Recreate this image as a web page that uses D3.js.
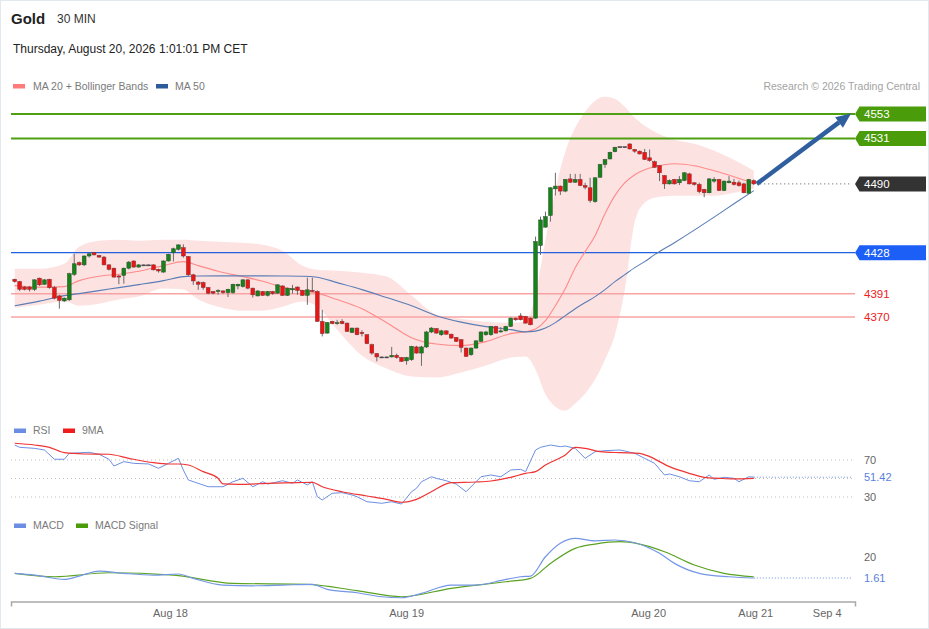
<!DOCTYPE html>
<html><head><meta charset="utf-8">
<script src="https://cdn.jsdelivr.net/npm/d3@7"></script>
<style>body{margin:0;background:#fff;}svg{display:block;font-family:"Liberation Sans",Arial,sans-serif;}</style>
</head><body><svg id="c" width="929" height="629"></svg>
<script>
// ---------- DATA ----------
const candleOpen=[4404,4402,4397,4397,4395,4405,4399.5,4404,4396.5,4389,4384.5,4385.5,4408.5,4419,4417,4425,4428,4425.5,4424,4417,4414,4407,4407.5,4414,4420.5,4415,4417,4417,4417,4413,4410.5,4420.5,4428,4431,4432.5,4424.5,4408,4401.5,4401,4396.5,4393,4393,4393.5,4392,4392,4398,4397.5,4403.5,4396,4389,4393,4389.5,4393,4391.5,4398,4389.5,4394.5,4397,4394,4389.5,4394,4393,4366,4355.5,4366,4364,4366,4364.5,4356,4360,4356,4354,4345,4337,4334,4334,4334,4335.5,4333.5,4330.5,4331.5,4343,4337.5,4343,4356.5,4359.5,4354,4357.5,4354.5,4351.5,4349.5,4342,4336,4342,4348,4354,4354,4361.5,4356.5,4357.5,4361.5,4369,4371,4370.5,4369,4369,4434.5,4451,4461.5,4485.5,4488,4483.5,4494.5,4491.5,4494,4488.5,4486.5,4474,4496,4507.5,4512.5,4519,4523.5,4523.5,4526,4521,4519.5,4518.5,4513.5,4510,4506.5,4497.5,4490,4494,4491,4493,4499,4491,4489.5,4485,4482,4492.5,4494,4484,4491,4491.5,4491,4490,4481.5,4493];
const candleHigh=[4404.5,4402.5,4398,4398,4404,4405.5,4404,4404.5,4398,4390,4387.5,4410,4427,4420,4425.5,4428,4428.5,4426,4425,4417.5,4414.5,4408,4414.5,4420.5,4421,4417.5,4417.3,4417.3,4417.5,4413.5,4421,4427,4432.5,4435.5,4435.5,4425,4409,4402.5,4402,4397,4393.5,4395,4394,4395.5,4400,4400,4404,4404,4396.5,4394,4393.5,4393.5,4393.5,4399.5,4398.5,4396.5,4399,4397.5,4394.5,4405.5,4405.5,4394,4376.5,4365.5,4366.5,4367.5,4368,4365,4360.5,4360.5,4358,4354.5,4346,4337.5,4334.3,4334.3,4343,4337,4334,4334,4344,4344,4344,4357.5,4361,4360,4358.5,4358,4355,4352,4350,4342.5,4342.5,4349,4357,4357.5,4362,4362,4361,4362,4369.5,4369.5,4373.5,4371,4369.5,4442.5,4460.5,4465,4487,4500,4488.5,4494.5,4499,4499,4499,4491,4495.5,4496,4508,4512.5,4519,4523.5,4523.8,4523.8,4526.5,4521.5,4520,4521.5,4521,4511,4507,4498,4494,4494.5,4497,4500.5,4500,4491.5,4491,4485.5,4495,4496,4494.5,4493,4497,4494.5,4493,4491,4494.5,4494];
const candleLow=[4401,4393.5,4394,4393,4393.5,4398,4399,4395.5,4386,4377.5,4383.5,4384.5,4407,4416,4416,4423.5,4425.5,4423.5,4416.5,4412,4405.5,4399.5,4400,4413,4414.5,4414.5,4416.7,4416.7,4412,4410,4410,4420,4420,4430,4423.5,4407,4399,4394.5,4394.5,4390.5,4390.5,4390,4391,4388,4391,4395,4396.5,4395,4387.5,4388.5,4389,4388.5,4390,4391,4389,4389,4391,4390,4389,4381,4392.5,4365.5,4352.5,4355,4363.5,4363,4363.5,4356.5,4355.5,4353.5,4352.5,4345.5,4336,4330,4333.7,4333.7,4333.5,4332.5,4329.5,4327,4330.5,4337,4326,4342,4355.5,4355,4353,4354,4350.5,4347.5,4338,4334,4335,4341.5,4347.5,4353,4353,4355,4356,4357,4361,4366.5,4367,4364,4362.5,4368.5,4426,4450.5,4456,4479.5,4480,4482.5,4491,4491,4488,4485,4473,4473,4495.5,4504.5,4512,4518.5,4523.2,4523.2,4521,4518,4516.5,4511.5,4510,4504.5,4492.5,4485.5,4489.5,4489.5,4489,4492.5,4489.5,4488.5,4481.5,4478,4481.5,4491,4483.5,4483.5,4490.5,4488.5,4487.5,4481.5,4481,4489];
const candleClose=[4402,4395,4395,4395,4403.5,4399,4403.5,4396.5,4387,4385,4387,4409,4418,4417,4425,4427,4426,4424,4417,4413,4406,4406,4414,4419.5,4415,4417,4417,4417,4412.5,4411.5,4420.5,4426.5,4431.5,4435,4425,4408,4402.5,4399.5,4396.5,4391.5,4391.5,4394,4392,4395,4399.5,4399.5,4403.5,4396,4390,4393.5,4389.5,4393,4391,4399,4389.5,4396,4395.5,4394,4389.5,4394.5,4393,4366,4355,4365,4364,4365,4364,4357,4360,4354,4355,4346,4337.5,4334,4334,4334,4335.5,4333.5,4330,4333.5,4343.5,4337.5,4343,4356.5,4360,4355.5,4357.5,4354.5,4351,4348,4342.5,4334.5,4342,4348.5,4356.5,4356.5,4361.5,4355.5,4357.5,4361.5,4369,4367.5,4367.5,4364.5,4363,4438,4457.5,4460.5,4486.5,4488,4483.5,4494,4491.5,4494,4488.5,4487,4475,4495.5,4507.5,4512,4518.5,4523,4523.5,4523.5,4521.5,4519.5,4517,4512,4511,4505,4500,4490,4493,4490,4494,4500,4490,4489.5,4483,4482,4494.5,4494,4484,4492.5,4492.5,4489.5,4488.5,4482,4494,4490];

const bandIdx=[1,6,11,14,18,22,26,31,35,38,42,47,51,55,59,62,66,71,76,81,86,91,96,101,104,106,108,110,112,114,116,118,120,122,124,126,128,130,134,138,142,146,150];
const bbUpper=[4413.6,4413.6,4418.1,4433.4,4438.8,4439.7,4438.8,4439.7,4439.7,4438.8,4437.9,4437.0,4435.2,4429.8,4416.3,4412.7,4411.8,4410.0,4406.4,4389.3,4372.1,4368.5,4365.8,4364.9,4365.8,4390.0,4439.7,4484.8,4519.0,4540.6,4555.0,4565.0,4568.6,4566.8,4559.5,4549.6,4542.4,4537.0,4529.8,4526.2,4519.9,4511.8,4501.9];
const ma20=[4398.3,4396.9,4397.4,4402.8,4406.8,4408.6,4411.3,4416.3,4419.9,4416.3,4411.3,4406.4,4402.3,4396.9,4393.8,4391.5,4385.7,4377.5,4364.9,4351.4,4345.6,4344.2,4347.8,4355.0,4356.8,4359.1,4366.7,4380.2,4395.6,4414.5,4428.9,4443.3,4463.1,4479.4,4491.1,4498.3,4502.8,4505.5,4508.2,4506.4,4501.9,4496.5,4490.6];
const bbLower=[4378.4,4381.1,4383.9,4380.2,4382.0,4385.7,4388.4,4395.6,4394.7,4385.7,4379.3,4375.7,4375.7,4379.3,4383.9,4379.3,4358.6,4335.2,4323.5,4316.3,4315.4,4319.9,4326.2,4333.4,4334.3,4322.6,4300.1,4289.2,4285.6,4292.0,4301.0,4313.6,4331.6,4354.1,4394.7,4455.9,4473.1,4477.6,4479.4,4479.4,4479.4,4482.1,4485.7];
const ma50=[4380.2,4384.3,4389.3,4391.1,4393.8,4396.5,4399.2,4402.8,4406.4,4407.0,4407.1,4407.1,4407.1,4407.0,4406.8,4405.9,4401.0,4394.7,4387.5,4380.2,4371.2,4365.4,4361.3,4358.6,4356.6,4357.3,4360.0,4364.9,4371.2,4377.5,4383.0,4388.4,4394.7,4401.9,4408.2,4414.5,4419.9,4426.2,4437.0,4448.3,4460.0,4472.1,4483.9];

const rsiIdx=[1,2,5,7,9,11,12,16,18,20,21,23,25,28,30,32,34,35,36,40,43,45,47,49,51,52,55,57,58,60,61,62,63,65,67,69,70,72,75,77,79,81,82,83,85,86,88,90,92,94,95,97,99,101,103,104,106,107,109,111,112,114,116,118,120,123,124,126,128,130,132,133,135,137,139,141,142,144,146,147,149,150];
const rsiVal=[86.2,83.7,82.6,80.8,70.8,70.8,77.2,78.3,76.2,70.8,63.5,68.2,66.4,65.7,61.0,66.4,71.8,59.2,48.4,41.1,41.1,46.5,50.2,41.1,46.5,44.0,47.6,44.8,48.4,43.0,46.5,30.3,26.8,34.0,34.7,32.2,30.3,24.9,23.2,24.9,22.4,35.7,39.4,46.5,51.9,50.2,47.6,44.0,35.7,46.5,51.9,53.8,51.9,59.2,59.9,57.4,80.8,83.7,86.2,84.4,85.1,82.6,71.8,79.0,80.1,80.8,79.7,77.2,71.8,66.4,53.8,54.9,51.9,47.6,46.5,53.8,49.1,51.3,50.2,46.5,51.9,51.42];
const rsiMaIdx=[1,5,8,11,15,20,24,29,32,34,36,39,42,43,46,52,58,61,63,67,72,76,79,82,85,89,94,97,101,104,106,108,112,114,116,119,123,127,129,133,137,140,143,146,150];
const rsiMaVal=[88.1,86.2,83.7,77.9,76.5,76.2,71.8,67.1,65.7,65.7,64.6,57.4,50.2,44.1,43.7,44.8,45.5,45.9,41.1,35.7,31.1,27.5,24.3,27.5,35.7,45.5,46.2,47.3,51.3,55.6,57.4,64.6,75.4,83.7,82.6,79.0,77.9,77.2,73.6,62.8,55.6,51.3,50.2,49.5,50.2];

const macdIdx=[1,5,11,14,18,23,29,34,37,43,49,55,61,64,70,75,79,83,89,94,100,103,105,108,111,114,118,122,126,131,134,139,145,150];
const macdVal=[5.7,4.2,0.4,3.3,7.7,5.7,4.2,5.1,1.3,-4.6,-5.2,-4.6,-3.9,-8.3,-11.3,-14.8,-15.7,-11.8,-4.6,-4.6,0.4,2.7,3.3,20.2,32.0,36.3,34.2,34.9,32.5,23.2,14.4,5.7,2.7,1.61];
const signalIdx=[1,9,20,33,45,60,70,79,89,100,105,109,114,118,123,127,132,138,144,150];
const signalVal=[5.7,2.7,6.2,4.2,-3.1,-3.9,-9.5,-14.8,-7.4,-1.7,1.3,14.4,27.6,31.3,33.4,31.3,24.6,13.0,5.7,2.7];

const tickIdx=[32.3,79.9,128.7,150.3,164.7];
const tickLabels=["Aug 18","Aug 19","Aug 20","Aug 21","Sep 4"];
const resistLevels=[4553,4531];
const lastPrice=4490;
const pivotLevel=4428;
const supportLevels=[4391,4370];
const rsiGrid=[70,50,30];
const rsiLabels=[70,30];
const rsiLast=51.42;
const macdLabel=20;
const macdLast=1.61;
const arrowFrom=[150.6,4490];
const arrowTo=[169.6,4553.5];

// ---------- SCALES ----------
const svg=d3.select('#c');
const N=candleOpen.length;
const idx=d3.range(1,N+1);
const x=d3.scaleLinear().domain([0.254,170.4]).range([11,855]);
const yP=d3.scaleLinear().domain([4370,4553]).range([317,114]);
const yR=d3.scaleLinear().domain([30,70]).range([497,460]);
const yM=d3.scaleLinear().domain([1.61,20]).range([578,557]);
const X0=11,X1=855,LX=864;

// frame
svg.append('rect').attr('x',0.5).attr('y',0.5).attr('width',928).attr('height',628).attr('fill','none').attr('stroke','#e3e8ee');

// header
svg.append('text').attr('x',11).attr('y',23.5).attr('font-size',15).attr('font-weight','bold').attr('fill','#222').text('Gold');
svg.append('text').attr('x',57).attr('y',22.7).attr('font-size',12).attr('fill','#333').text('30 MIN');
svg.append('text').attr('x',13).attr('y',52.5).attr('font-size',12).attr('fill','#222').text('Thursday, August 20, 2026 1:01:01 PM CET');

function legend(items,y){
  items.forEach(it=>{
    svg.append('rect').attr('x',it.sx).attr('y',y-5.5).attr('width',12).attr('height',4.5).attr('fill',it.c);
    svg.append('text').attr('x',it.tx).attr('y',y).attr('font-size',10.5).attr('fill','#7a7a7a').text(it.t);
  });
}
legend([{sx:13,tx:33,c:'#ff7a7a',t:'MA 20 + Bollinger Bands'},{sx:156,tx:175,c:'#2e5c9a',t:'MA 50'}],89.5);
svg.append('text').attr('x',920).attr('y',89.5).attr('text-anchor','end').attr('font-size',10.5).attr('fill','#a3a3a3').text('Research © 2026 Trading Central');

// ---------- PRICE PANEL ----------
const bi=d3.range(bandIdx.length);
svg.append('path').datum(bi).attr('fill','#fde2e2')
  .attr('d',d3.area().x(i=>x(bandIdx[i])).y0(i=>yP(bbLower[i])).y1(i=>yP(bbUpper[i])).curve(d3.curveMonotoneX));

// level lines
resistLevels.forEach(v=>{
  svg.append('line').attr('x1',X0).attr('x2',X1).attr('y1',yP(v)).attr('y2',yP(v)).attr('stroke','#4f9f12').attr('stroke-width',2);
});
svg.append('line').attr('x1',X0).attr('x2',X1).attr('y1',yP(pivotLevel)).attr('y2',yP(pivotLevel)).attr('stroke','#1f5fe0').attr('stroke-width',1.2);
supportLevels.forEach(v=>{
  svg.append('line').attr('x1',X0).attr('x2',X1).attr('y1',yP(v)).attr('y2',yP(v)).attr('stroke','#f7a3a3').attr('stroke-width',1.5);
});
svg.append('line').attr('x1',x(151.3)).attr('x2',852).attr('y1',yP(lastPrice)).attr('y2',yP(lastPrice)).attr('stroke','#555').attr('stroke-width',1).attr('stroke-dasharray','1,3');

// MAs
svg.append('path').datum(bi).attr('fill','none').attr('stroke','#ff8a8a').attr('stroke-width',1.1)
  .attr('d',d3.line().x(i=>x(bandIdx[i])).y(i=>yP(ma20[i])).curve(d3.curveMonotoneX));
svg.append('path').datum(bi).attr('fill','none').attr('stroke','#5a7db5').attr('stroke-width',1.1)
  .attr('d',d3.line().x(i=>x(bandIdx[i])).y(i=>yP(ma50[i])).curve(d3.curveMonotoneX));

// candles
const cg=svg.append('g');
cg.selectAll('line.wk').data(idx).join('line').attr('class','wk')
  .attr('x1',i=>x(i)).attr('x2',i=>x(i))
  .attr('y1',i=>yP(candleHigh[i-1])).attr('y2',i=>yP(candleLow[i-1]))
  .attr('stroke','#6b6b6b').attr('stroke-width',1);
cg.selectAll('rect.bd').data(idx).join('rect').attr('class','bd')
  .attr('x',i=>x(i)-1.9).attr('width',3.8)
  .attr('y',i=>Math.min(yP(candleOpen[i-1]),yP(candleClose[i-1])))
  .attr('height',i=>Math.max(1,Math.abs(yP(candleOpen[i-1])-yP(candleClose[i-1]))))
  .attr('fill',i=>candleClose[i-1]>candleOpen[i-1]?'#16821a':(candleClose[i-1]<candleOpen[i-1]?'#ec1515':'#444'))
  .attr('stroke',i=>candleClose[i-1]>candleOpen[i-1]?'#2d4d2d':(candleClose[i-1]<candleOpen[i-1]?'#7a3030':'#444'))
  .attr('stroke-width',0.5);

// arrow
(function(){
  const x1=x(arrowFrom[0]),y1=yP(arrowFrom[1]),x2=x(arrowTo[0]),y2=yP(arrowTo[1]);
  const a=Math.atan2(y2-y1,x2-x1),L=15,hw=6.5;
  const bx=x2-L*Math.cos(a),by=y2-L*Math.sin(a);
  svg.append('line').attr('x1',x1).attr('y1',y1).attr('x2',bx).attr('y2',by).attr('stroke','#2f5f9f').attr('stroke-width',4.5);
  const px=-Math.sin(a),py=Math.cos(a);
  svg.append('path').attr('fill','#2f5f9f')
    .attr('d',`M${x2},${y2}L${bx+px*hw},${by+py*hw}L${bx-px*hw},${by-py*hw}Z`);
})();

// tags
function tag(v,fill){
  const y=yP(v);
  svg.append('path').attr('fill',fill).attr('d',`M855,${y}L859.5,${y-7.5}L926,${y-7.5}L926,${y+7.5}L859.5,${y+7.5}Z`);
  svg.append('text').attr('x',LX).attr('y',y+4).attr('font-size',11.5).attr('fill','#fff').text(v);
}
resistLevels.forEach(v=>tag(v,'#4a9c0a'));
tag(lastPrice,'#333333');
tag(pivotLevel,'#1b5ff6');
supportLevels.forEach(v=>{
  svg.append('text').attr('x',LX).attr('y',yP(v)+4).attr('font-size',11.5).attr('fill','#f02020').text(v);
});

// ---------- RSI PANEL ----------
legend([{sx:14,tx:33,c:'#6b8ee3',t:'RSI'},{sx:63,tx:82,c:'#ee1c1c',t:'9MA'}],434);
rsiGrid.forEach(v=>{
  svg.append('line').attr('x1',X0).attr('x2',X1).attr('y1',yR(v)).attr('y2',yR(v)).attr('stroke','#bdbdbd').attr('stroke-dasharray','1,3');
});
svg.append('path').datum(d3.zip(rsiIdx,rsiVal)).attr('fill','none').attr('stroke','#6d8fe2').attr('stroke-width',1)
  .attr('d',d3.line().x(d=>x(d[0])).y(d=>yR(d[1])));
svg.append('path').datum(d3.zip(rsiMaIdx,rsiMaVal)).attr('fill','none').attr('stroke','#ef3434').attr('stroke-width',1.2)
  .attr('d',d3.line().x(d=>x(d[0])).y(d=>yR(d[1])).curve(d3.curveMonotoneX));
svg.append('line').attr('x1',x(150)).attr('x2',852).attr('y1',yR(rsiLast)).attr('y2',yR(rsiLast)).attr('stroke','#6d8fe2').attr('stroke-dasharray','1,2');
rsiLabels.forEach(v=>svg.append('text').attr('x',LX).attr('y',yR(v)+4).attr('font-size',11).attr('fill','#666').text(v));
svg.append('text').attr('x',LX).attr('y',yR(rsiLast)+4).attr('font-size',11).attr('fill','#5a7fe0').text(rsiLast.toFixed(2));

// ---------- MACD PANEL ----------
legend([{sx:14,tx:33,c:'#6b8ee3',t:'MACD'},{sx:76,tx:95,c:'#4a9c0a',t:'MACD Signal'}],529);
svg.append('path').datum(d3.zip(signalIdx,signalVal)).attr('fill','none').attr('stroke','#5aa322').attr('stroke-width',1.2)
  .attr('d',d3.line().x(d=>x(d[0])).y(d=>yM(d[1])).curve(d3.curveMonotoneX));
svg.append('path').datum(d3.zip(macdIdx,macdVal)).attr('fill','none').attr('stroke','#7496e6').attr('stroke-width',1.2)
  .attr('d',d3.line().x(d=>x(d[0])).y(d=>yM(d[1])).curve(d3.curveMonotoneX));
svg.append('line').attr('x1',x(150)).attr('x2',852).attr('y1',yM(macdLast)).attr('y2',yM(macdLast)).attr('stroke','#6d8fe2').attr('stroke-dasharray','1,2');
svg.append('text').attr('x',LX).attr('y',yM(macdLabel)+4).attr('font-size',11).attr('fill','#666').text(macdLabel);
svg.append('text').attr('x',LX).attr('y',yM(macdLast)+4).attr('font-size',11).attr('fill','#5a7fe0').text(macdLast.toFixed(2));

// ---------- X AXIS ----------
const ax=svg.append('g').attr('transform','translate(0,601.5)')
  .call(d3.axisBottom(x).tickValues(tickIdx).tickFormat((d,i)=>tickLabels[i]).tickSizeInner(0).tickSizeOuter(5).tickPadding(8));
ax.select('.domain').attr('stroke','#a8a8a8').attr('stroke-width',1.5);
ax.selectAll('text').attr('font-size',11).attr('fill','#666').attr('font-family','"Liberation Sans",Arial,sans-serif');
</script></body></html>
